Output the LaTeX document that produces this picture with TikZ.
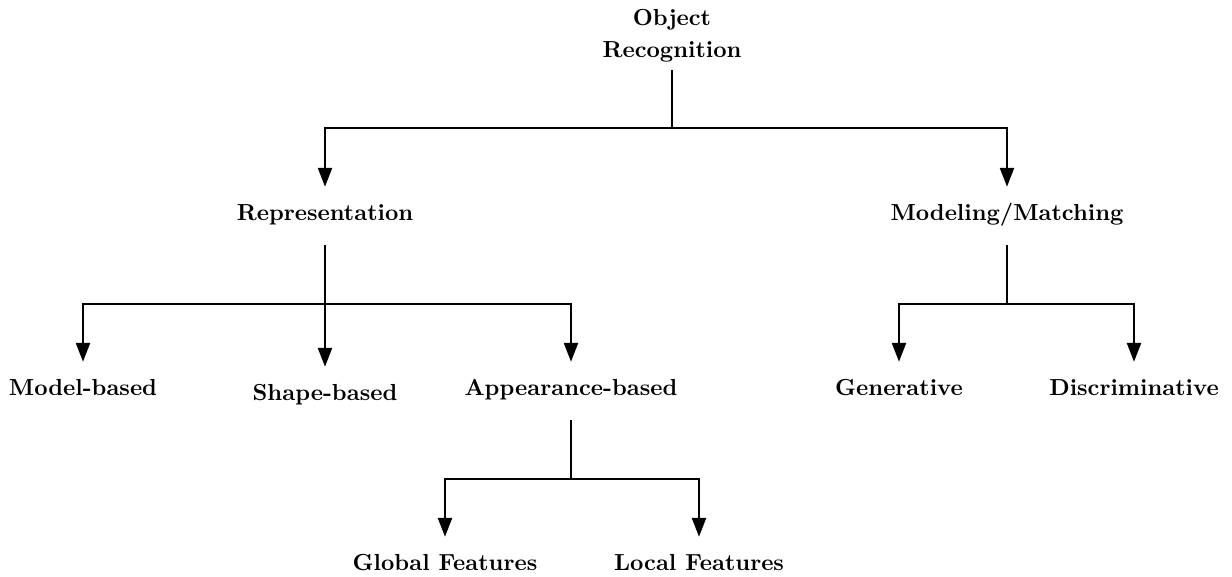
\documentclass[tikz,border=0pt]{standalone}
\usetikzlibrary{arrows.meta}
\begin{document}
\begin{tikzpicture}[x=0.431pt,y=-0.431pt,
  label/.style={font=\bfseries, inner sep=0pt, outer sep=0pt,
    text height=7pt, text depth=0pt, anchor=base},
  link/.style={line width=1.15pt, line join=miter},
  branch/.style={link, -{Triangle[length=8.2pt,width=6pt]}, shorten >=7.3pt},
  stem/.style={link, shorten <=10.6pt}]
\useasboundingbox (0,0) rectangle (1232,576);

% labels
\node[font=\bfseries, inner sep=0pt, outer sep=0pt, align=center, anchor=south]
  (root) at (672,62) {Object\\[1.8pt]Recognition};
\node[label] (rep)  at (325,220)  {Representation};
\node[label] (mod)  at (1007,220) {Modeling/Matching};
\node[label] (modb) at (83,395)   {Model-based};
\node[label] (shp)  at (325,400)  {Shape-based};
\node[label] (app)  at (571,395)  {Appearance-based};
\node[label] (gen)  at (899,395)  {Generative};
\node[label] (dis)  at (1134,395) {Discriminative};
\node[label] (glo)  at (445,570)  {Global Features};
\node[label] (loc)  at (699,570)  {Local Features};

% junction points
\coordinate (j0) at (672,128);
\coordinate (j1) at (325,304);
\coordinate (j2) at (1007,304);
\coordinate (j3) at (571,479);

% tree connectors
\draw[link, shorten <=3.4pt] (root.south) -- (j0);
\draw[branch] (j0) -| (rep.north);
\draw[branch] (j0) -| (mod.north);

\draw[stem] (rep.south) -- (j1);
\draw[branch] (j1) -| (modb.north);
\draw[branch] (j1) -- (shp.north);
\draw[branch] (j1) -| (app.north);

\draw[stem] (mod.south) -- (j2);
\draw[branch] (j2) -| (gen.north);
\draw[branch] (j2) -| (dis.north);

\draw[stem] (app.south) -- (j3);
\draw[branch] (j3) -| (glo.north);
\draw[branch] (j3) -| (loc.north);
\end{tikzpicture}
\end{document}
